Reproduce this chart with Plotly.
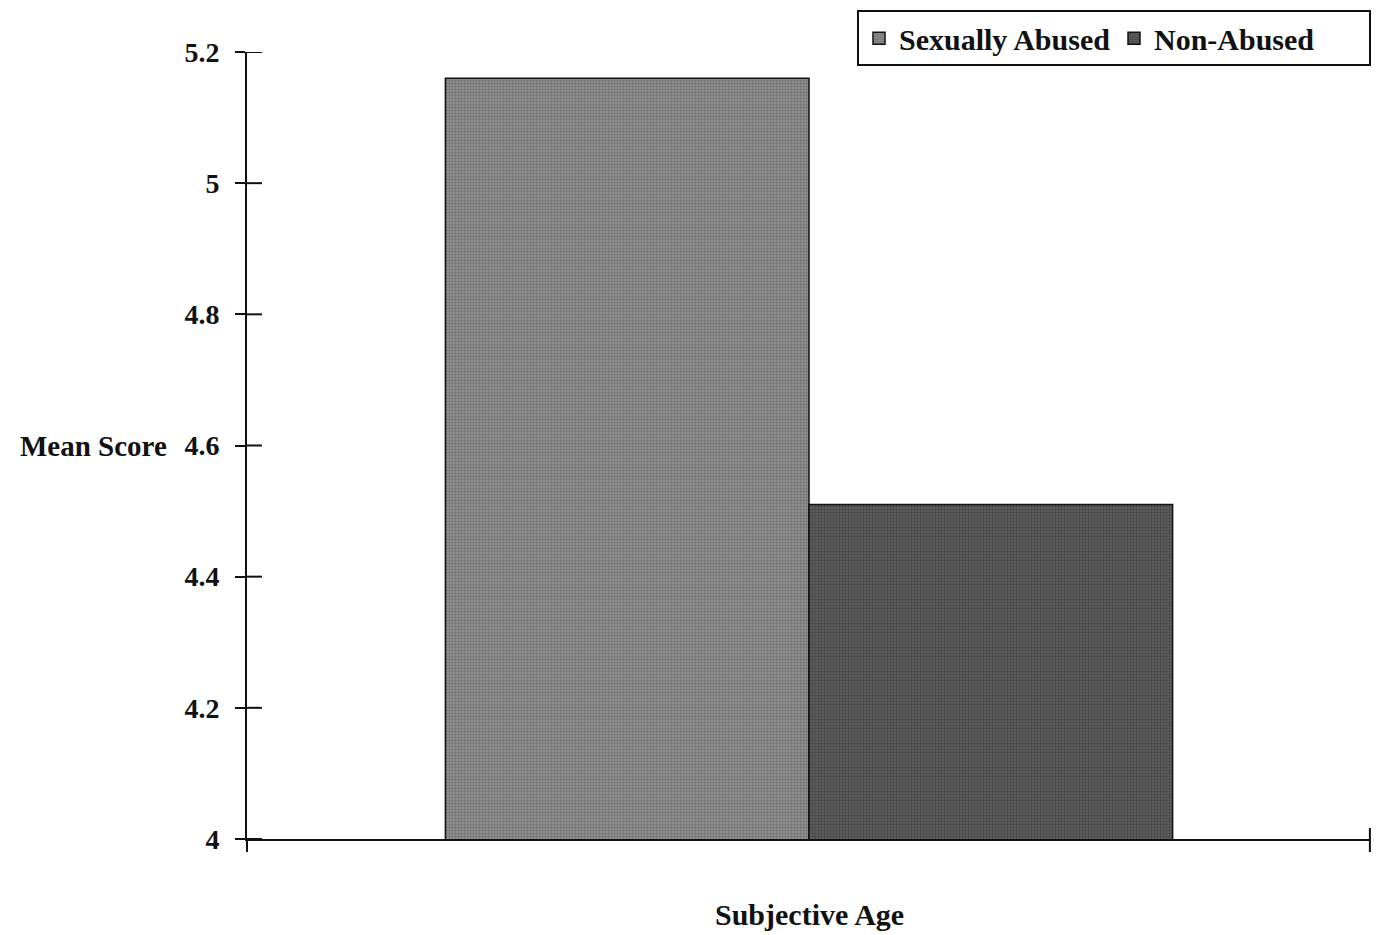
import plotly.graph_objects as go

categories = ["Subjective Age"]
series_names = ["Sexually Abused", "Non-Abused"]
sexually_abused = [5.16]
non_abused = [4.51]
y_ticks = [4, 4.2, 4.4, 4.6, 4.8, 5, 5.2]
y_ticktext = ["4", "4.2", "4.4", "4.6", "4.8", "5", "5.2"]

FONT = "Liberation Serif"
INK = "#111"

fig = go.Figure()
fig.add_trace(go.Bar(
    x=categories, y=sexually_abused, name="<b>" + series_names[0] + "</b>",
    marker=dict(color="#808080", line=dict(color=INK, width=1.5),
                pattern=dict(shape=".", fgcolor="#4a4a4a", bgcolor="#979797", size=3, solidity=0.5)),
))
fig.add_trace(go.Bar(
    x=categories, y=non_abused, name="<b>" + series_names[1] + "</b>",
    marker=dict(color="#484848", line=dict(color=INK, width=1.5),
                pattern=dict(shape=".", fgcolor="#2a2a2a", bgcolor="#626262", size=3, solidity=0.5)),
))

fig.update_layout(
    width=1364, height=927,
    margin=dict(l=239, r=1, t=44, b=96),
    paper_bgcolor="white", plot_bgcolor="white",
    barmode="group", bargap=0.353, bargroupgap=0,
    font=dict(family=FONT, size=28, color=INK),
    showlegend=True,
    legend=dict(orientation="h", x=1, xanchor="right", y=1.053, yanchor="top",
                bordercolor=INK, borderwidth=2, bgcolor="white",
                font=dict(family=FONT, size=30, color=INK),
                itemwidth=30, tracegroupgap=0, entrywidth=210, entrywidthmode="pixels"),
    xaxis=dict(showticklabels=False, ticks="", showline=True, linecolor=INK, linewidth=2,
               showgrid=False, zeroline=False),
    yaxis=dict(range=[4, 5.2], tickvals=y_ticks, ticktext=["<b>" + t + "</b>" for t in y_ticktext],
               ticks="outside", ticklen=10, tickwidth=2, tickcolor=INK,
               showline=True, linecolor=INK, linewidth=2, showgrid=False, zeroline=False,
               tickfont=dict(family=FONT, size=28, color=INK), ticklabelstandoff=10),
)

# inner halves of the crossing y-axis ticks
for t in y_ticks:
    fig.add_shape(type="line", xref="paper", yref="y", x0=0, x1=0.0133, y0=t, y1=t,
                  line=dict(color=INK, width=2))
# y-axis stub below the x-axis and end tick of the x-axis
fig.add_shape(type="line", xref="paper", yref="paper", x0=0, x1=0, y0=0, y1=-0.0165,
              line=dict(color=INK, width=2))
fig.add_shape(type="line", xref="paper", yref="paper", x0=0.999, x1=0.999, y0=-0.0165, y1=0.014,
              line=dict(color=INK, width=2))

fig.add_annotation(text="<b>Mean Score</b>", xref="paper", yref="y", x=-0.2037, y=4.6,
                   xanchor="left", yanchor="middle", showarrow=False,
                   font=dict(family=FONT, size=29, color=INK))
fig.add_annotation(text="<b>Subjective Age</b>", xref="paper", yref="paper", x=0.5, y=-0.096,
                   xanchor="center", yanchor="middle", showarrow=False,
                   font=dict(family=FONT, size=30, color=INK))

fig.write_html("out.html")
